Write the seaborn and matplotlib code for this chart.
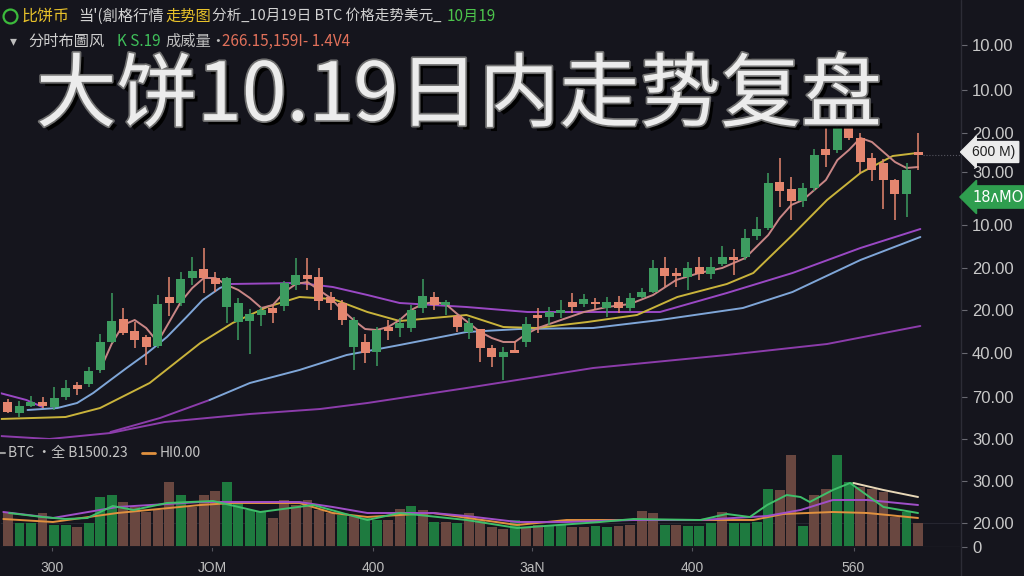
import numpy as np
import matplotlib
matplotlib.use('Agg')
import matplotlib.pyplot as plt
import matplotlib.patheffects as pe
from matplotlib.lines import Line2D
import seaborn as sns

# ---- candles (price units) ----
opens = [38, 27, 34, 38, 33, 43, 55, 56, 70, 98, 121, 109, 103, 94, 143, 137, 162, 171, 162, 133,
         118, 119, 125, 132, 134, 155, 165, 163, 143, 137, 93, 98, 88, 113, 112, 112, 132, 143, 135, 124,
         108, 111, 92, 83, 90, 98, 125, 123, 127, 138, 136, 138, 132, 138, 132, 143, 148, 172, 167, 163,
         173, 166, 176, 183, 183, 204, 212, 258, 251, 239, 252, 291, 290, 313, 302, 282, 277, 260, 246, 288]
highs = [41, 39, 44, 43, 53, 60, 58, 73, 106, 147, 132, 118, 105, 145, 163, 168, 183, 192, 168, 163,
         142, 131, 133, 135, 159, 182, 182, 172, 148, 140, 123, 106, 113, 120, 122, 135, 161, 148, 140, 125,
         122, 111, 95, 93, 99, 123, 132, 133, 140, 147, 146, 142, 143, 144, 147, 152, 180, 183, 172, 178,
         183, 183, 194, 191, 211, 223, 267, 282, 263, 257, 291, 312, 315, 315, 307, 287, 281, 261, 277, 307]
lows = [27, 23, 33, 32, 30, 40, 45, 53, 67, 97, 105, 92, 75, 92, 124, 134, 155, 147, 148, 117,
        100, 86, 114, 117, 129, 150, 150, 130, 130, 115, 70, 77, 74, 100, 103, 108, 127, 130, 125, 108,
        101, 78, 73, 60, 87, 93, 107, 115, 122, 127, 133, 130, 123, 127, 129, 142, 147, 153, 153, 150,
        160, 161, 174, 165, 180, 200, 210, 233, 220, 233, 249, 273, 287, 300, 267, 259, 231, 220, 223, 270]
closes = [28, 34, 38, 34, 42, 52, 51, 69, 98, 119, 107, 100, 93, 136, 137, 161, 169, 162, 156, 162,
          137, 126, 130, 127, 157, 165, 161, 139, 137, 120, 120, 87, 110, 109, 117, 130, 144, 135, 138, 113,
          117, 92, 83, 88, 87, 116, 122, 128, 130, 133, 141, 136, 138, 132, 142, 148, 172, 164, 164, 172,
          166, 173, 183, 180, 202, 211, 257, 249, 239, 252, 285, 285, 312, 302, 278, 270, 260, 246, 270, 285]

# ---- moving average lines (candle index, price) ----
ma_pink_x = [8, 9, 10, 11, 12, 13, 14, 15, 16, 17, 18, 19, 20, 21, 22, 23, 24, 25, 26, 27, 28, 29, 30,
             31, 32, 33, 34, 35, 36, 37, 38, 39, 40, 41, 42, 43, 44, 45, 46, 47, 48, 49, 50, 52, 54, 56,
             58, 60, 62, 64, 66, 67, 68, 69, 70, 71, 72, 73, 74, 75, 76, 77, 78, 79]
ma_pink_y = [70, 96, 115, 120, 112, 98, 118, 138, 152, 162, 162, 155, 150, 142, 132, 135, 148, 156, 158,
             150, 142, 130, 120, 111, 110, 113, 120, 130, 136, 138, 136, 126, 117, 108, 102, 98, 98, 106,
             112, 116, 120, 124, 128, 133, 136, 145, 160, 167, 172, 182, 205, 222, 235, 240, 250, 260,
             280, 290, 302, 298, 288, 278, 272, 273]
ma_blue_x = [1.7, 4.3, 6, 7.4, 8.9, 10.3, 12.1, 13.8, 15.5, 16.9, 18.4, 19.3]
ma_blue_y = [30, 32, 37, 47, 60, 72, 87, 103, 123, 140, 152, 156]
ma_yellow_x = [-0.7, 5, 8, 12.3, 16.7, 19.5, 22.5, 25.3, 28.2, 31.2, 34, 36.9, 39.8, 43, 45.9, 50.3,
               54.6, 58.1, 62.4, 64.7, 68.1, 71.1, 74, 76.8, 78.9]
ma_yellow_y = [21, 23, 32, 57, 97, 117, 133, 143, 141, 128, 119, 122, 125, 113, 112, 118, 125, 143,
               156, 167, 205, 240, 267, 284, 287]
ma_purple_left_x = [-0.7, 1.6, 3]
ma_purple_left_y = [47, 40, 33]
ma_purple_x = [19.3, 25.3, 28.2, 31.2, 34, 39.8, 45.1, 47.9, 56.6, 62.4, 68.1, 74, 79.2]
ma_purple_y = [156, 157, 153, 145, 137, 133, 128, 128, 128, 147, 167, 192, 211]
ma_slow_blue_x = [17.5, 21, 25.3, 29.4, 34, 39.8, 44.4, 50.8, 56.6, 63.8, 68.1, 74, 79.2]
ma_slow_blue_y = [40, 57, 70, 85, 95, 108, 111, 112, 120, 132, 148, 180, 203]
ma_slow_lead_x = [8.9, 13.2, 17.5]
ma_slow_lead_y = [8, 22, 40]
ma_long_x = [-0.7, 3.6, 8.9, 13.6, 21, 27.1, 31.2, 39.8, 50.8, 62.4, 71.1, 79.2]
ma_long_y = [4, 1, 7, 18, 26, 31, 37, 52, 72, 85, 96, 114]

# ---- volume ----
volumes = [35, 24, 24, 34, 22, 22, 20, 24, 50, 52, 45, 40, 35, 37, 65, 52, 40, 52, 56, 65,
           44, 37, 35, 29, 47, 42, 47, 37, 34, 32, 32, 29, 27, 27, 38, 41, 37, 25, 25, 24,
           34, 27, 20, 18, 27, 20, 22, 21, 22, 20, 20, 21, 20, 21, 22, 36, 34, 22, 22, 21,
           21, 24, 35, 24, 24, 25, 58, 57, 92, 21, 52, 58, 92, 65, 60, 58, 55, 30, 35, 24]
vol_dir = list('duuduuduuudddddudddu'
               'uuudddddduduuddudud'
               'uddddudduudduuddddudu'
               'uuduuuuddudduuddddud')
vma_green_x = [0.1, 3, 5, 6.9, 9.1, 10.9, 13.8, 17.8, 21.9, 26.5, 31.2, 34, 39.8, 44.2, 51.4, 54.3,
               60.1, 62.4, 64.4, 65.9, 67.6, 68.8, 69.6, 71.6, 73.1, 76, 79]
vma_green_y = [34, 30, 28, 29, 41, 37, 44, 46, 35, 42, 27, 34, 27, 19, 25, 28, 27, 33, 30, 42, 52,
               50, 45, 57, 64, 40, 34]
vma_purple_x = [-0.4, 3.9, 9.5, 16.7, 25.3, 28.2, 31.2, 36.9, 39.8, 44.2, 48.5, 54.3, 60.1, 65.9,
                68.8, 71.6, 74.6, 79]
vma_purple_y = [35, 29, 40, 45, 45, 40, 34, 34, 31, 25, 25, 27, 27, 31, 37, 47, 47, 42]
vma_orange_x = [-0.4, 3.9, 9.5, 16.7, 19.5, 25.3, 28.2, 31.2, 36.9, 44.2, 48.5, 60.1, 64.7, 67.3,
                71.6, 74.6, 79]
vma_orange_y = [28, 25, 34, 42, 44, 44, 34, 30, 34, 22, 27, 27, 27, 33, 35, 34, 29]
vma_cream_x = [73.4, 76, 79]
vma_cream_y = [64, 57, 50]

# ---- axis labels ----
price_ticks = [395, 350, 307, 268, 215, 172, 130, 87, 43, 1]
price_labels = ['10.00', '10.00', '20.00', '30.00', '10.00', '20.00', '20.00', '40.00', '70.00', '30.00']
vol_ticks = [0, 24, 66]
vol_labels = ['0', '20.00', '30.00']
x_ticks = [3.8, 17.7, 31.7, 45.5, 59.4, 73.4]
x_labels = ['300', 'JOM', '400', '3aN', '400', '560']

bg = '#15151d'
UP, DOWN = '#3d9c60', '#e5866f'
VUP, VDOWN = '#1e7a3f', '#694740'

sns.set_theme(style='dark', rc={'axes.facecolor': bg, 'figure.facecolor': bg,
                                 'savefig.facecolor': bg, 'axes.edgecolor': bg, 'axes.grid': False})
plt.rcParams['font.family'] = ['Noto Sans CJK SC', 'DejaVu Sans']

W, H = 1024, 576
fig = plt.figure(figsize=(10.24, 5.76), dpi=100)
ax = fig.add_axes([0, (H - 440) / H, 961 / W, 440 / H])
axv = fig.add_axes([0, (H - 547) / H, 961 / W, 100 / H])
xlim = (-0.69, 82.73)

# moving averages
line_specs = [
    (ma_long_x, ma_long_y, '#8c3cab'),
    (ma_slow_lead_x, ma_slow_lead_y, '#8c3cab'),
    (ma_slow_blue_x, ma_slow_blue_y, '#7fa6d8'),
    (ma_purple_left_x, ma_purple_left_y, '#9a48c4'),
    (ma_purple_x, ma_purple_y, '#9a48c4'),
    (ma_yellow_x, ma_yellow_y, '#c9b33b'),
    (ma_blue_x, ma_blue_y, '#7fa6d8'),
    (ma_pink_x, ma_pink_y, '#c98686'),
]
for xs, ys, colr in line_specs:
    sns.lineplot(x=xs, y=ys, ax=ax, color=colr, linewidth=1.4, sort=False, estimator=None, zorder=2)

# candlesticks
idx = np.arange(len(opens))
o, c = np.array(opens), np.array(closes)
cols = np.where(c >= o, UP, DOWN)
ax.vlines(idx, lows, highs, colors=cols, lw=1.1, zorder=3)
ax.bar(idx, np.maximum(np.abs(c - o), 2.5), bottom=np.minimum(o, c), width=0.78,
       color=cols, linewidth=0, zorder=4)
ax.hlines(285, 79.4, xlim[1], colors='#55555f', lw=0.8, linestyles=':', zorder=1)

ax.set_xlim(*xlim)
ax.set_ylim(0, 440)
ax.set_xticks([])
ax.yaxis.tick_right()
ax.set_yticks(price_ticks, price_labels, fontfamily='Liberation Sans', fontsize=12, color='#c8c8c8')
ax.tick_params(axis='y', right=True, left=False, length=4, width=0.8, color='#6a6a72', pad=4)
ax.set_xlabel('')
ax.set_ylabel('')

# volume panel
axv.axhline(24, color='#262630', lw=0.8, zorder=0)
axv.bar(np.arange(len(volumes)), volumes, width=0.86,
        color=[VUP if d == 'u' else VDOWN for d in vol_dir], linewidth=0, zorder=1)
for xs, ys, colr in [(vma_orange_x, vma_orange_y, '#e0913f'),
                     (vma_purple_x, vma_purple_y, '#a04fc8'),
                     (vma_green_x, vma_green_y, '#3fbf6a'),
                     (vma_cream_x, vma_cream_y, '#e8d8b8')]:
    sns.lineplot(x=xs, y=ys, ax=axv, color=colr, linewidth=1.4, sort=False, estimator=None, zorder=3)
axv.axhline(0, color='#34343e', lw=1.2, zorder=2)
axv.set_xlim(*xlim)
axv.set_ylim(0, 100)
axv.yaxis.tick_right()
axv.set_yticks(vol_ticks, vol_labels, fontfamily='Liberation Sans', fontsize=12, color='#c8c8c8')
axv.tick_params(axis='y', right=True, left=False, length=4, width=0.8, color='#6a6a72', pad=4)
axv.set_xticks(x_ticks, x_labels, fontfamily='Liberation Sans', fontsize=10, color='#bdbdbd')
axv.tick_params(axis='x', bottom=True, length=3, width=0.8, color='#55555e', pad=7)
axv.set_xlabel('')
axv.set_ylabel('')

# right divider
fig.add_artist(Line2D([961 / W] * 2, [0, 1], transform=fig.transFigure, color='#2c2c36', lw=1))

def ftxt(x, y, s, **kw):
    return fig.text(x / W, 1 - y / H, s, va='center', ha='left', **kw)

# header line 1
fig.add_artist(Line2D([10 / W], [1 - 16 / H], marker='o', mfc='none', mec='#3cba3c', ms=10, mew=1.6,
                      transform=fig.transFigure))
ftxt(22, 16, '比饼币', fontsize=11.5, color='#e8c22a')
ftxt(78, 16, "当'(創格行情", fontsize=11, color='#d2d2d2')
ftxt(165, 16, '走势图', fontsize=11, color='#e8c22a')
ftxt(212, 16, '分析_10月19日 BTC 价格走势美元_', fontsize=10.5, color='#d2d2d2')
ftxt(447, 16, '10月19', fontsize=11, color='#4cc44c')
# header line 2
ftxt(10, 41, '▾', fontsize=10, color='#bdbdbd')
ftxt(28, 41, '分时布圖风', fontsize=11, color='#cfcfcf')
ftxt(117, 41, 'K S.19', fontsize=11, color='#3fbf5a')
ftxt(165, 41, '成威量·', fontsize=11, color='#bdbdbd')
ftxt(222, 41, '266.15,159I- 1.4V4', fontsize=11, color='#e0705a')

# big title
ftxt(36, 97, '大饼10.19日内走势复盘', fontsize=58, color='#ececec', fontweight='medium',
     path_effects=[pe.SimplePatchShadow(offset=(3, -3), shadow_rgbFace='#000000', alpha=0.95),
                   pe.Stroke(linewidth=2.5, foreground='#707070'), pe.Normal()])

# volume legend
fig.add_artist(Line2D([0, 5 / W], [1 - 453 / H] * 2, transform=fig.transFigure, color='#9a9a9a', lw=1.5))
ftxt(8, 453, 'BTC ·全 B1500.23', fontsize=10, color='#c4c4c4')
fig.add_artist(Line2D([142 / W, 155 / W], [1 - 453 / H] * 2, transform=fig.transFigure,
                      color='#e0913f', lw=2))
ftxt(160, 453, 'HI0.00', fontsize=10, color='#c4c4c4')

# price tags
ftxt(972, 152, '600 M)', fontsize=10, color='#222222', fontfamily='Liberation Sans',
     bbox=dict(boxstyle='larrow,pad=0.25', fc='#ececec', ec='#ececec'))
ftxt(972, 197, '18ʌMO', fontsize=10.5, color='#ffffff', fontfamily='DejaVu Sans',
     bbox=dict(boxstyle='larrow,pad=0.25', fc='#2f9e4f', ec='#2f9e4f'))

fig.savefig('out.png', dpi=100, facecolor=bg)
